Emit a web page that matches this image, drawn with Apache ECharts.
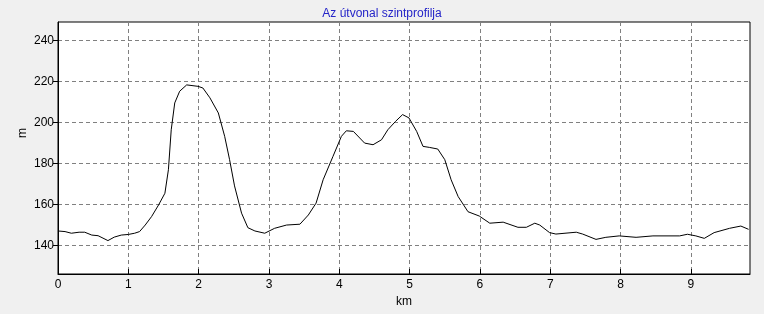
<!DOCTYPE html>
<html>
<head>
<meta charset="utf-8">
<script src="https://cdn.jsdelivr.net/npm/echarts@6/dist/echarts.min.js"></script>
<style>
html,body{margin:0;padding:0;background:#f0f0f0;}
#chart{width:764px;height:314px;}
</style>
</head>
<body>
<div id="chart"></div>
<script>
const titleText = 'Az útvonal szintprofilja';
const xName = 'km';
const yName = 'm';
const xTicks = [0, 1, 2, 3, 4, 5, 6, 7, 8, 9];
const yTicks = [140, 160, 180, 200, 220, 240];
const distanceKm = [
  0.00, 0.10, 0.19, 0.30, 0.38, 0.48, 0.57, 0.71, 0.80, 0.90,
  1.00, 1.09, 1.16, 1.24, 1.33, 1.43, 1.52, 1.57, 1.61, 1.66,
  1.73, 1.83, 1.99, 2.06, 2.16, 2.28, 2.37, 2.44, 2.51, 2.61,
  2.70, 2.80, 2.94, 3.08, 3.25, 3.44, 3.56, 3.67, 3.77, 3.91,
  4.03, 4.10, 4.20, 4.36, 4.48, 4.60, 4.69, 4.80, 4.90, 4.99,
  5.10, 5.19, 5.28, 5.40, 5.50, 5.59, 5.69, 5.83, 5.99, 6.14,
  6.33, 6.54, 6.66, 6.78, 6.85, 6.99, 7.08, 7.37, 7.46, 7.65,
  7.79, 7.98, 8.22, 8.46, 8.84, 8.95, 9.07, 9.19, 9.33, 9.55,
  9.71, 9.82
];
const elevationM = [
  147.0, 146.7, 145.9, 146.4, 146.4, 145.0, 144.7, 142.3, 144.0, 145.0,
  145.3, 145.9, 146.7, 149.9, 154.0, 159.7, 165.4, 176.9, 196.4, 209.5,
  215.2, 218.3, 217.6, 216.8, 212.0, 204.6, 193.2, 181.8, 169.0, 155.7,
  148.6, 147.0, 145.9, 148.3, 149.9, 150.3, 154.8, 160.6, 172.0, 183.4,
  193.2, 195.9, 195.6, 189.9, 189.1, 191.5, 196.4, 200.5, 203.8, 202.2,
  195.6, 188.3, 187.8, 187.0, 181.8, 172.0, 163.8, 156.4, 154.3, 150.8,
  151.3, 148.8, 148.8, 150.8, 149.9, 146.2, 145.5, 146.4, 145.5, 142.9,
  143.9, 144.6, 143.9, 144.6, 144.6, 145.4, 144.6, 143.4, 146.2, 148.3,
  149.4, 147.8
];

const points = distanceKm.map((d, i) => [d, elevationM[i]]);
const font = 'Liberation Sans, Arial, sans-serif';

const chart = echarts.init(document.getElementById('chart'), null, {renderer: 'canvas'});
chart.setOption({
  backgroundColor: '#f0f0f0',
  animation: false,
  title: {
    text: titleText,
    left: 'center',
    top: 3,
    textStyle: {color: '#2424c8', fontSize: 12, fontWeight: 'normal', fontFamily: font}
  },
  grid: {
    left: 58, right: 14, top: 22, bottom: 40,
    show: true, backgroundColor: '#ffffff', borderColor: '#000000', borderWidth: 1
  },
  xAxis: {
    type: 'value',
    min: 0, max: 9.84,
    name: xName,
    nameLocation: 'middle',
    nameGap: 22,
    nameTextStyle: {color: '#000', fontSize: 12, fontFamily: font},
    axisLine: {show: true, onZero: false, lineStyle: {color: '#000', width: 1}},
    axisTick: {show: true, inside: true, length: 5, customValues: xTicks, lineStyle: {color: '#000'}},
    axisLabel: {customValues: xTicks, color: '#000', fontSize: 12, fontFamily: font, margin: 5},
    splitLine: {show: true, lineStyle: {color: '#808080', type: [4, 3], width: 1}}
  },
  yAxis: {
    type: 'value',
    min: 126, max: 249,
    axisLine: {show: true, onZero: false, lineStyle: {color: '#000', width: 1}},
    axisTick: {show: true, length: 5, customValues: yTicks, lineStyle: {color: '#000'}},
    axisLabel: {customValues: yTicks, color: '#000', fontSize: 12, fontFamily: font, margin: 4},
    splitLine: {show: true, lineStyle: {color: '#808080', type: [4, 3], width: 1}}
  },
  graphic: [{
    type: 'text',
    left: 17,
    top: 128,
    rotation: Math.PI / 2,
    style: {text: yName, fill: '#000', font: '12px ' + font}
  }],
  series: [{
    type: 'line',
    data: points,
    showSymbol: false,
    symbol: 'none',
    lineStyle: {color: '#000', width: 1},
    silent: true
  }]
});
</script>
</body>
</html>
